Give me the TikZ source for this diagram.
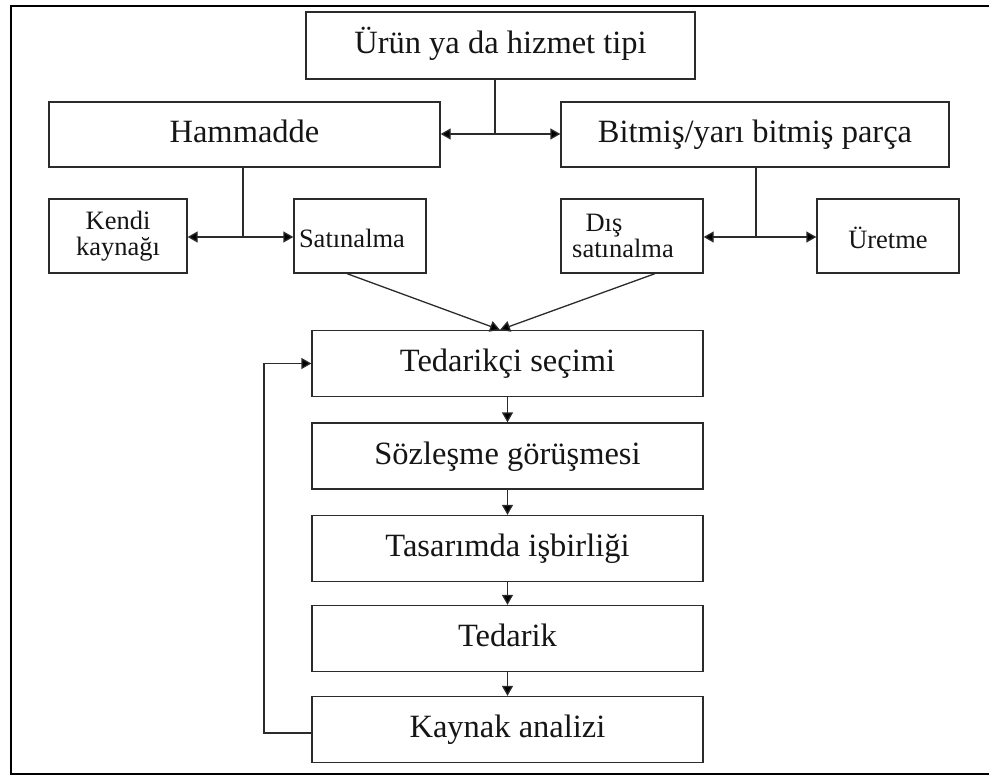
\documentclass[tikz,border=0pt]{standalone}
\usepackage{fontspec}
\setmainfont{Liberation Serif}
\usetikzlibrary{arrows.meta}
\definecolor{boxline}{HTML}{2B2B2B}
\definecolor{ink}{HTML}{151515}
\begin{document}
\begin{tikzpicture}[x=1pt,y=-1pt,
  box/.style={draw=boxline, line width=1.3pt, inner sep=0pt, text=ink,
    font=\fontsize{32.5}{36}\selectfont, text height=22.5pt, text depth=6.5pt},
  bigbox/.style={box, minimum width=390pt, minimum height=66pt},
  smallbox/.style={draw=boxline, line width=1.3pt, inner sep=0pt, text=ink,
    font=\fontsize{26.5}{25.5}\selectfont, align=center, minimum height=74pt},
  conn/.style={draw=boxline, line width=1.3pt},
  arr/.style={conn, -{Triangle[length=10pt,width=11pt,fill=black]}},
  frameline/.style={draw=black, line width=2.6pt}
  ]
\useasboundingbox (0,0) rectangle (989,776);

% outer frame (open on the right)
\draw[frameline] (989,6) -- (11,6) -- (11,774) -- (989,774);

% first level
\node[box, minimum width=389pt, minimum height=67pt] (top) at (500.5,45.5) {Ürün ya da hizmet tipi};
\node[box, minimum width=391pt, minimum height=65pt] (ham) at (244.5,134.5) {Hammadde};
\node[box, minimum width=388pt, minimum height=65pt] (bit) at (755,134.5) {Bitmiş/yarı bitmiş parça};

% second level
\node[smallbox, minimum width=138pt] (kendi) at (118,236) {Kendi\\kaynağı};
\node[smallbox, minimum width=132pt] (sat) at (360,236) {\raisebox{-11pt}[0pt][0pt]{Satınalma}\hspace*{16pt}};
\node[smallbox, minimum width=142pt] (dis) at (632,236) {Dış\hspace*{56pt}\\satınalma\hspace*{18pt}};
\node[smallbox, minimum width=142pt] (uret) at (888,236) {\raisebox{-12pt}[0pt][0pt]{Üretme}};

% process chain
\node[bigbox, minimum width=391pt] (ted) at (507.5,363.5) {Tedarikçi seçimi};
\node[bigbox, minimum width=391pt] (soz) at (507.5,456) {Sözleşme görüşmesi};
\node[bigbox, minimum width=391pt] (tas) at (507.5,548.5) {Tasarımda işbirliği};
\node[bigbox, minimum width=391pt] (tdr) at (507.5,638.5) {Tedarik};
\node[bigbox, minimum width=391pt] (kay) at (507.5,729.5) {Kaynak analizi};

% branching from the product type
\coordinate (j1) at (495,134);
\draw[conn] (top.south -| j1) -- (j1);
\draw[arr] (j1) -- (ham.east |- j1);
\draw[arr] (j1) -- (bit.west |- j1);

% raw material branch
\coordinate (j2) at (243,237);
\draw[conn] (ham.south -| j2) -- (j2);
\draw[arr] (j2) -- (kendi.east |- j2);
\draw[arr] (j2) -- (sat.west |- j2);

% finished part branch
\coordinate (j3) at (756,237);
\draw[conn] (bit.south -| j3) -- (j3);
\draw[arr] (j3) -- (dis.east |- j3);
\draw[arr] (j3) -- (uret.west |- j3);

% purchasing routes into supplier selection
\coordinate (m) at ([xshift=-7.5pt]ted.north);
\draw[arr] ([xshift=-13pt]sat.south) -- (m);
\draw[arr] ([xshift=23pt]dis.south) -- (m);

% chain arrows
\draw[arr] (ted.south) -- (soz.north);
\draw[arr] (soz.south) -- (tas.north);
\draw[arr] (tas.south) -- (tdr.north);
\draw[arr] (tdr.south) -- (kay.north);

% feedback loop
\coordinate (fb) at (264,0);
\draw[arr] ([yshift=-3.5pt]kay.west) -- ([yshift=-3.5pt]kay.west -| fb) -- (ted.west -| fb) -- (ted.west);
\end{tikzpicture}
\end{document}
